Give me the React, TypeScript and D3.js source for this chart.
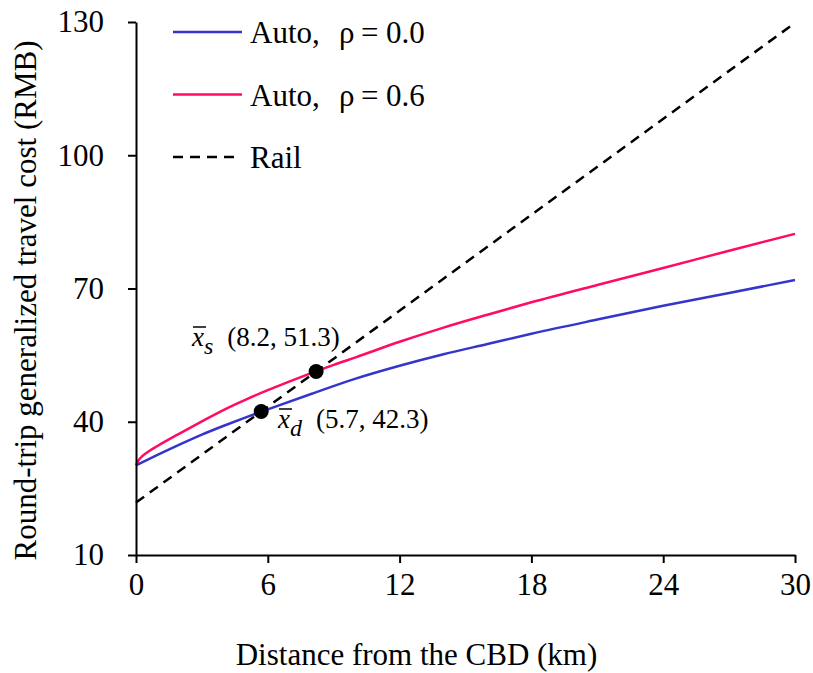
import React, { useEffect, useRef } from 'react';
import * as d3 from 'd3';

// distance from the CBD (km) and round-trip cost (RMB)
const autoX0 = [0, 1, 2, 3, 4, 5, 6, 8, 10, 12, 14, 16, 18, 21, 24, 27, 30];
const autoY0 = [30.2, 32.6, 34.9, 37.1, 39.1, 41.0, 42.8, 46.3, 49.7, 52.6, 55.2, 57.5, 59.8, 63.0, 66.1, 69.0, 71.9];

const autoX6 = [0, 0.1, 0.3, 0.6, 1, 2, 3, 4, 5, 6, 7, 8, 9, 10, 12, 14, 16, 18, 21, 24, 27, 30];
const autoY6 = [30.2, 31.2, 32.3, 33.4, 34.6, 37.4, 40.1, 42.7, 45.0, 47.1, 49.1, 51.0, 52.8, 54.5, 58.0, 61.2, 64.1, 66.9, 70.8, 74.6, 78.5, 82.3];

const railX = [0, 30];
const railY = [21.8, 129.8];

const xTicks = [0, 6, 12, 18, 24, 30];
const yTicks = [10, 40, 70, 100, 130];

const equilibria = [
  { name: 'd', x: 5.7, y: 42.3 },
  { name: 's', x: 8.2, y: 51.3 },
];

const FONT = '"Liberation Serif", "Times New Roman", serif';

export default function App() {
  const ref = useRef<SVGSVGElement>(null);

  useEffect(() => {
    const svg = d3.select(ref.current);
    svg.selectAll('*').remove();

    const left = 136, right = 795, top = 22, bottom = 555;

    const x = d3.scaleLinear().domain([0, 30]).range([left, right]);
    const y = d3.scaleLinear().domain([10, 130]).range([bottom, top]);

    const line = d3.line<[number, number]>()
      .x((d) => x(d[0]))
      .y((d) => y(d[1]))
      .curve(d3.curveMonotoneX);

    const zip = (xs: number[], ys: number[]) => xs.map((v, i) => [v, ys[i]] as [number, number]);

    // rail
    svg.append('path')
      .attr('d', line(zip(railX, railY)))
      .attr('fill', 'none')
      .attr('stroke', '#000')
      .attr('stroke-width', 2.5)
      .attr('stroke-dasharray', '10,7');

    svg.append('path')
      .attr('d', line(zip(autoX0, autoY0)))
      .attr('fill', 'none')
      .attr('stroke', '#3535cc')
      .attr('stroke-width', 2.5);

    svg.append('path')
      .attr('d', line(zip(autoX6, autoY6)))
      .attr('fill', 'none')
      .attr('stroke', '#ff0a64')
      .attr('stroke-width', 2.5);

    // axes
    const xAxis = svg.append('g')
      .attr('transform', `translate(0, ${bottom})`)
      .call(d3.axisBottom(x).tickValues(xTicks).tickSize(8).tickSizeOuter(0).tickPadding(10));
    const yAxis = svg.append('g')
      .attr('transform', `translate(${left}, 0)`)
      .call(d3.axisLeft(y).tickValues(yTicks).tickSize(8).tickSizeOuter(0).tickPadding(24));

    [xAxis, yAxis].forEach((g) => {
      g.attr('font-family', FONT);
      g.select('.domain').attr('stroke', '#000').attr('stroke-width', 2);
      g.selectAll('.tick line').attr('stroke', '#000').attr('stroke-width', 2);
      g.selectAll('.tick text')
        .attr('fill', '#000')
        .style('font-family', FONT)
        .style('font-size', '31px');
    });
    xAxis.selectAll('.tick text').attr('dy', '0.72em');

    // equilibrium points
    svg.selectAll('circle.eq')
      .data(equilibria)
      .enter()
      .append('circle')
      .attr('class', 'eq')
      .attr('cx', (d) => x(d.x))
      .attr('cy', (d) => y(d.y))
      .attr('r', 7.5)
      .attr('fill', '#000');

    const label = (px: number, py: number, sub: string, txt: string) => {
      const t = svg.append('text')
        .attr('x', px)
        .attr('y', py)
        .style('font-family', FONT)
        .style('font-size', '27px');
      t.append('tspan').attr('font-style', 'italic').text('x');
      t.append('tspan').attr('font-style', 'italic').attr('dy', 8).style('font-size', '24px').text(sub);
      t.append('tspan').attr('dy', -8).attr('dx', 14).text(txt);
      // bar over x
      svg.append('line')
        .attr('x1', px + 1).attr('x2', px + 14)
        .attr('y1', py - 19).attr('y2', py - 19)
        .attr('stroke', '#000').attr('stroke-width', 1.5);
    };
    const [d, s] = equilibria;
    label(192, 346, s.name, `(${s.x}, ${s.y})`);
    label(278, 428, d.name, `(${d.x}, ${d.y})`);

    // legend
    const legend = [
      { color: '#3535cc', dash: null, rho: '0.0', rail: false },
      { color: '#ff0a64', dash: null, rho: '0.6', rail: false },
      { color: '#000', dash: '10,7', rho: '', rail: true },
    ];
    legend.forEach((l, i) => {
      const ly = 32 + i * 62.5;
      svg.append('line')
        .attr('x1', 173).attr('x2', l.rail ? 238 : 242)
        .attr('y1', ly).attr('y2', ly)
        .attr('stroke', l.color)
        .attr('stroke-width', 2.5)
        .attr('stroke-dasharray', l.dash);
      const t = svg.append('text')
        .attr('x', 250)
        .attr('y', ly + 11)
        .style('font-family', FONT)
        .style('font-size', '31px')
        .attr('fill', '#000');
      if (l.rail) {
        t.text('Rail');
      } else {
        t.append('tspan').text('Auto,');
        t.append('tspan').attr('x', 339).text('ρ');
        t.append('tspan').attr('x', 361).text('=');
        t.append('tspan').attr('x', 386).text(l.rho);
      }
    });

    // axis titles
    svg.append('text')
      .attr('x', (left + right) / 2 - 49)
      .attr('y', 665)
      .attr('text-anchor', 'middle')
      .style('font-family', FONT)
      .style('font-size', '31px')
      .text('Distance from the CBD (km)');

    svg.append('text')
      .attr('transform', `translate(36, ${(top + bottom) / 2 + 12}) rotate(-90)`)
      .attr('text-anchor', 'middle')
      .style('font-family', FONT)
      .style('font-size', '31px')
      .text('Round-trip generalized travel cost (RMB)');
  }, []);

  return (
    <svg ref={ref} width={813} height={673}
      style={{ position: 'absolute', left: 0, top: 0, background: '#fff' }} />
  );
}
